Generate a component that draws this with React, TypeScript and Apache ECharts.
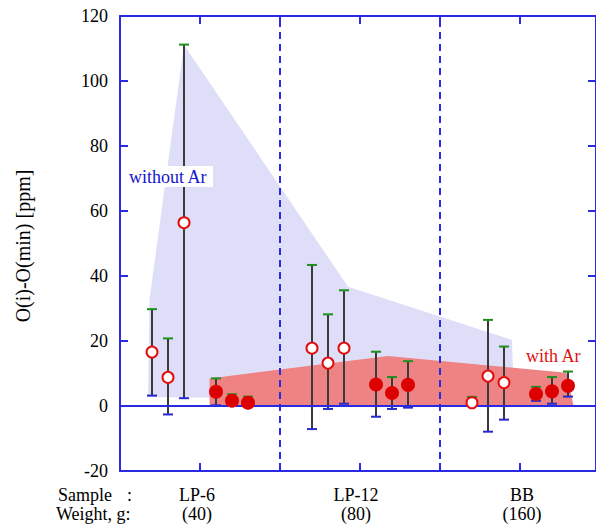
import React, { useEffect, useRef } from "react";
import * as echarts from "echarts";

// [x, value, errLow, errHigh]
const openPoints: number[][] = [
  [0.4, 16.6, 3.2, 29.8],
  [0.6, 8.8, -2.6, 20.8],
  [0.8, 56.4, 2.4, 111.2],
  [2.4, 17.8, -7.1, 43.4],
  [2.6, 13.2, -0.9, 28.2],
  [2.8, 17.8, 0.7, 35.6],
  [4.4, 1.0, 0.3, 2.8],
  [4.6, 9.2, -7.9, 26.5],
  [4.8, 7.2, -4.2, 18.3],
];

const filledPoints: number[][] = [
  [1.2, 4.4, 0.2, 8.5],
  [1.4, 1.6, 0.3, 3.6],
  [1.6, 1.0, 0.2, 2.9],
  [3.2, 6.6, -3.3, 16.7],
  [3.4, 4.0, -0.9, 8.9],
  [3.6, 6.5, -0.5, 13.8],
  [5.2, 3.7, 1.6, 5.9],
  [5.4, 4.5, 0.7, 8.9],
  [5.6, 6.2, 2.9, 10.6],
];

const withoutArArea: number[][] = [
  [0.35, 2.8],
  [0.37, 33.0],
  [0.8, 111.1],
  [2.85, 36.7],
  [4.9, 20.3],
  [4.91, 12.0],
  [4.91, 3.0],
  [1.5, 2.5],
];

const withArArea: number[][] = [
  [1.12, 0],
  [1.12, 8.5],
  [3.35, 15.4],
  [5.58, 10.2],
  [5.67, 0],
];

const separators = [2, 4];
const sampleNames = ["LP-6", "LP-12", "BB"];
const sampleWeights = ["(40)", "(80)", "(160)"];
const sampleCenters = [197, 356, 522];

const AXIS_BLUE = "#2a2ae0";
const SERIF = "Liberation Serif";

export default function App() {
  const ref = useRef<HTMLDivElement>(null);

  useEffect(() => {
    if (!ref.current) return;
    const chart = echarts.init(ref.current, undefined, { renderer: "svg" });

    const polygonSeries = (pts: number[][], fill: string, z: number) => ({
      type: "custom",
      silent: true,
      z,
      data: pts,
      encode: { x: 0, y: 1 },
      renderItem: (params: any, api: any) => {
        if (params.dataIndex !== 0) return null;
        return {
          type: "polygon",
          shape: { points: pts.map((p) => api.coord(p)) },
          style: { fill },
        };
      },
    });

    const errorSeries = (pts: number[][]) => ({
      type: "custom",
      silent: true,
      z: 4,
      data: pts,
      encode: { x: 0, y: 1 },
      renderItem: (params: any, api: any) => {
        const x = api.value(0);
        const lo = api.value(2);
        const hi = api.value(3);
        const t = api.coord([x, hi]);
        const b = api.coord([x, lo]);
        const w = 5;
        return {
          type: "group",
          children: [
            {
              type: "line",
              shape: { x1: t[0], y1: t[1], x2: b[0], y2: b[1] },
              style: { stroke: "#3a3a3a", lineWidth: 2 },
            },
            {
              type: "line",
              shape: { x1: t[0] - w, y1: t[1], x2: t[0] + w, y2: t[1] },
              style: { stroke: "#1f8f1f", lineWidth: 2 },
            },
            {
              type: "line",
              shape: { x1: b[0] - w, y1: b[1], x2: b[0] + w, y2: b[1] },
              style: { stroke: "#2828d0", lineWidth: 2 },
            },
          ],
        };
      },
    });

    const axisCommon = {
      type: "value" as const,
      axisLine: { show: true, onZero: false, lineStyle: { color: AXIS_BLUE, width: 2 } },
      axisTick: { show: true, inside: true, length: 8, lineStyle: { color: AXIS_BLUE, width: 2 } },
      splitLine: { show: false },
    };

    const txt = (text: string, x: number, y: number, size: number, fill: string, align = "left", extra: any = {}) => ({
      type: "text",
      x,
      y,
      z: 11,
      ...extra,
      style: {
        text,
        fontFamily: SERIF,
        fontSize: size,
        fill,
        align,
        verticalAlign: "middle",
      },
    });

    const graphics: any[] = [
      txt("O(i)-O(min) [ppm]", 23, 246, 20, "#000", "center", { rotation: Math.PI / 2 }),
      { type: "rect", shape: { x: 126, y: 166, width: 87, height: 21 }, style: { fill: "#fff" }, z: 10 },
      txt("without Ar", 129, 177, 18, "#1414cc"),
      txt("with Ar", 526, 356, 18, "#dd1111"),
      txt("Sample", 58, 495, 18, "#000"),
      txt(":", 127, 495, 18, "#000"),
      txt("Weight, g:", 56, 514, 18, "#000"),
    ];
    sampleNames.forEach((n, i) => {
      graphics.push(txt(n, sampleCenters[i], 495, 18, "#000", "center"));
      graphics.push(txt(sampleWeights[i], sampleCenters[i], 514, 18, "#000", "center"));
    });

    chart.setOption({
      animation: false,
      backgroundColor: "#fff",
      grid: { left: 120, top: 16, width: 476, height: 455, containLabel: false },
      xAxis: [
        { ...axisCommon, min: 0, max: 5.95, interval: 1, position: "bottom", axisLabel: { show: false } },
        { ...axisCommon, min: 0, max: 5.95, interval: 1, position: "top", axisLabel: { show: false } },
      ],
      yAxis: [
        {
          ...axisCommon,
          min: -20,
          max: 120,
          interval: 20,
          position: "left",
          axisLabel: { show: true, color: "#000", fontFamily: SERIF, fontSize: 18, margin: 12 },
        },
        { ...axisCommon, min: -20, max: 120, interval: 20, position: "right", axisLabel: { show: false } },
      ],
      series: [
        polygonSeries(withoutArArea, "#dedef8", 1),
        polygonSeries(withArArea, "#ef8282", 2),
        {
          type: "line",
          data: [],
          z: 3,
          silent: true,
          markLine: {
            silent: true,
            symbol: "none",
            label: { show: false },
            animation: false,
            data: [
              { yAxis: 0, lineStyle: { color: AXIS_BLUE, width: 2, type: "solid" } },
              ...separators.map((s) => ({
                xAxis: s,
                lineStyle: { color: AXIS_BLUE, width: 2, type: [7, 5] },
              })),
            ],
          },
        },
        errorSeries(openPoints),
        errorSeries(filledPoints),
        {
          type: "scatter",
          z: 5,
          symbol: "circle",
          symbolSize: 11,
          data: openPoints.map((p) => [p[0], p[1]]),
          itemStyle: { color: "#ffffff", borderColor: "#e01010", borderWidth: 2, opacity: 1 },
        },
        {
          type: "scatter",
          z: 5,
          symbol: "circle",
          symbolSize: 14,
          data: filledPoints.map((p) => [p[0], p[1]]),
          itemStyle: { color: "#dd0000", opacity: 1 },
        },
      ],
      graphic: graphics,
    });

    return () => chart.dispose();
  }, []);

  return (
    <div
      ref={ref}
      style={{ position: "absolute", left: 0, top: 0, width: 596, height: 526, background: "#fff" }}
    />
  );
}
